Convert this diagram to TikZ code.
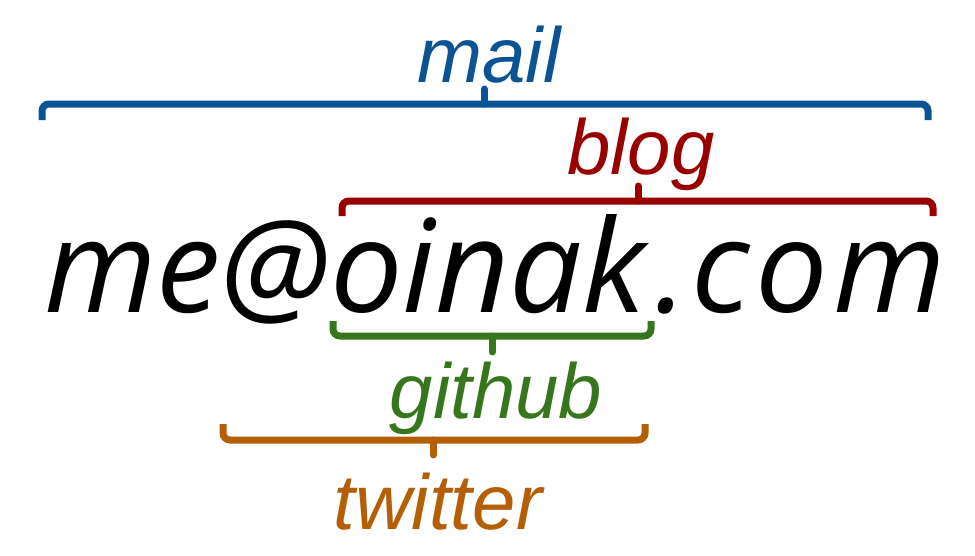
\documentclass[tikz,border=0pt]{standalone}
\usepackage{fontspec}
\setmainfont{Liberation Sans}
\newfontfamily\addrfont{Open Sans}
\definecolor{mailc}{HTML}{0B5394}
\definecolor{blogc}{HTML}{990000}
\definecolor{githubc}{HTML}{38761D}
\definecolor{twitc}{HTML}{B45F06}
\tikzset{
  x=1pt, y=-1pt,
  lbl/.style={anchor=base, inner sep=0pt, font=\fontsize{78}{80}\selectfont\itshape},
  brk/.style={line width=7pt, rounded corners=7pt},
  tick/.style={line width=7pt, line cap=round},
}
\begin{document}
\begin{tikzpicture}
\useasboundingbox (0,0) rectangle (975,555);
\node[anchor=base west, inner sep=0pt, font=\addrfont\fontsize{129}{130}\selectfont\itshape] (addr) at (44,312) {me@oinak\kern10pt.\kern4pt c\kern5pt o\kern5pt m};
% labels
\node[lbl, text=mailc] (mail) at (489,82) {mail};
\node[lbl, text=blogc] (blog) at (641,174) {blog};
\node[lbl, text=githubc] (github) at (496,418) {github};
\node[lbl, text=twitc] (twitter) at (438,529) {twitter};
% mail bracket
\draw[brk, mailc] (42,120) -- (42,104) -- (928,104) -- (928,120);
\draw[tick, mailc] (484,104) -- (484,89);
% blog bracket
\draw[brk, blogc] (342,216) -- (342,201) -- (933,201) -- (933,216);
\draw[tick, blogc] (638,201) -- (638,186);
% github bracket
\draw[brk, githubc] (333,321) -- (333,336) -- (651,336) -- (651,321);
\draw[tick, githubc] (492,336) -- (492,352);
% twitter bracket
\draw[brk, twitc] (223,424) -- (223,440) -- (645,440) -- (645,424);
\draw[tick, twitc] (433,440) -- (433,455);
\end{tikzpicture}
\end{document}
